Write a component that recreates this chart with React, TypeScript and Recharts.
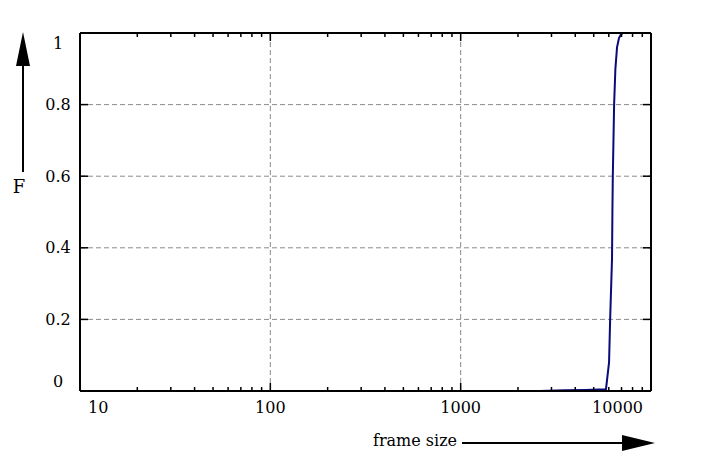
import { LineChart, Line, XAxis, YAxis, ReferenceLine } from "recharts"

// CDF of frame size (log x axis)
const frameSize = [2600, 3500, 4500, 5300, 5800, 6020, 6100, 6240, 6270, 6300, 6350, 6400, 6500, 6630, 6790, 6950, 7130, 7300]
const cdf       = [0, 0.002, 0.003, 0.004, 0.005, 0.08, 0.2, 0.37, 0.5, 0.6, 0.7, 0.8, 0.9, 0.96, 0.986, 0.996, 1, 1]

const xMajor = [10, 100, 1000, 10000]
const xMinor = [20, 30, 40, 50, 60, 70, 80, 90, 200, 300, 400, 500, 600, 700, 800, 900, 2000, 3000, 4000, 5000, 6000, 7000, 8000, 9000]
const yTicks = [0, 0.2, 0.4, 0.6, 0.8, 1]
const gridX = [100, 1000]
const gridY = [0.2, 0.4, 0.6, 0.8]

const data = frameSize.map((s, i) => ({ size: s, F: cdf[i] }))

const FONT = "DejaVu Serif"
const W = 702
const H = 461

const BottomTick = (props: any) => {
  const { x, y, payload } = props
  const v = payload.value
  const major = xMajor.includes(v)
  let anchor = "middle"
  let dx = 0
  if (v === xMajor[0]) { anchor = "start"; dx = 8 }
  if (v === xMajor[xMajor.length - 1]) { anchor = "end"; dx = -8 }
  return (
    <g>
      <line x1={x} y1={y} x2={x} y2={y - (major ? 8 : 4)} stroke="#000" strokeWidth={1.5} />
      {major && (
        <text x={x + dx} y={y + 16} textAnchor={anchor} dominantBaseline="central" fontFamily={FONT} fontSize={16} fill="#000">
          {v}
        </text>
      )}
    </g>
  )
}

const TopTick = (props: any) => {
  const { x, y, payload } = props
  const major = xMajor.includes(payload.value)
  return <line x1={x} y1={y} x2={x} y2={y + (major ? 8 : 4)} stroke="#000" strokeWidth={1.5} />
}

const LeftTick = (props: any) => {
  const { x, y, payload } = props
  const v = payload.value
  let dy = 0
  if (v === yTicks[0]) dy = -10
  if (v === yTicks[yTicks.length - 1]) dy = 10
  return (
    <g>
      <line x1={x} y1={y} x2={x + 8} y2={y} stroke="#000" strokeWidth={1.5} />
      <text x={x - 22} y={y + dy} textAnchor="middle" dominantBaseline="central" fontFamily={FONT} fontSize={16} fill="#000">
        {v}
      </text>
    </g>
  )
}

const RightTick = (props: any) => {
  const { x, y } = props
  return <line x1={x} y1={y} x2={x - 8} y2={y} stroke="#000" strokeWidth={1.5} />
}

export default function App() {
  return (
    <div style={{ position: "absolute", left: 0, top: 0, width: W, height: H, background: "#fff" }}>
      <LineChart width={W} height={H} data={data} margin={{ top: 32, right: 50, bottom: 69, left: 79 }}>
        {gridX.map((g) => (
          <ReferenceLine key={"gx" + g} x={g} stroke="#8a8a8a" strokeDasharray="5 3" strokeWidth={1} />
        ))}
        {gridY.map((g) => (
          <ReferenceLine key={"gy" + g} y={g} stroke="#8a8a8a" strokeDasharray="5 3" strokeWidth={1} />
        ))}
        <XAxis
          dataKey="size"
          type="number"
          scale="log"
          domain={[10, 10000]}
          allowDataOverflow
          ticks={[...xMajor, ...xMinor]}
          interval={0}
          height={1}
          tickSize={0}
          tickMargin={0}
          tickLine={false}
          tick={BottomTick}
          axisLine={{ stroke: "#000", strokeWidth: 2 }}
        />
        <XAxis
          xAxisId="top"
          orientation="top"
          dataKey="size"
          type="number"
          scale="log"
          domain={[10, 10000]}
          allowDataOverflow
          ticks={[...xMajor, ...xMinor]}
          interval={0}
          height={1}
          tickSize={0}
          tickMargin={0}
          tickLine={false}
          tick={TopTick}
          axisLine={{ stroke: "#000", strokeWidth: 2 }}
        />
        <YAxis
          type="number"
          domain={[0, 1]}
          allowDataOverflow
          ticks={yTicks}
          interval={0}
          width={1}
          tickSize={0}
          tickMargin={0}
          tickLine={false}
          tick={LeftTick}
          axisLine={{ stroke: "#000", strokeWidth: 2 }}
        />
        <YAxis
          yAxisId="right"
          orientation="right"
          type="number"
          domain={[0, 1]}
          allowDataOverflow
          ticks={yTicks}
          interval={0}
          width={1}
          tickSize={0}
          tickMargin={0}
          tickLine={false}
          tick={RightTick}
          axisLine={{ stroke: "#000", strokeWidth: 2 }}
        />
        <Line
          type="linear"
          dataKey="F"
          stroke="#0a0a78"
          strokeWidth={2}
          dot={false}
          isAnimationActive={false}
        />
      </LineChart>
      <svg width={W} height={H} style={{ position: "absolute", left: 0, top: 0, pointerEvents: "none" }}>
        <line x1={23} y1={172} x2={23} y2={62} stroke="#000" strokeWidth={2} />
        <polygon points="23,32 16,66 30,66" fill="#000" />
        <text x={19} y={186} textAnchor="middle" dominantBaseline="central" fontFamily={FONT} fontSize={18} fill="#000">F</text>
        <text x={373} y={446} fontFamily={FONT} fontSize={16} fill="#000">frame size</text>
        <line x1={462} y1={443} x2={630} y2={443} stroke="#000" strokeWidth={2} />
        <polygon points="655,443 622,435 622,451" fill="#000" />
      </svg>
    </div>
  )
}
